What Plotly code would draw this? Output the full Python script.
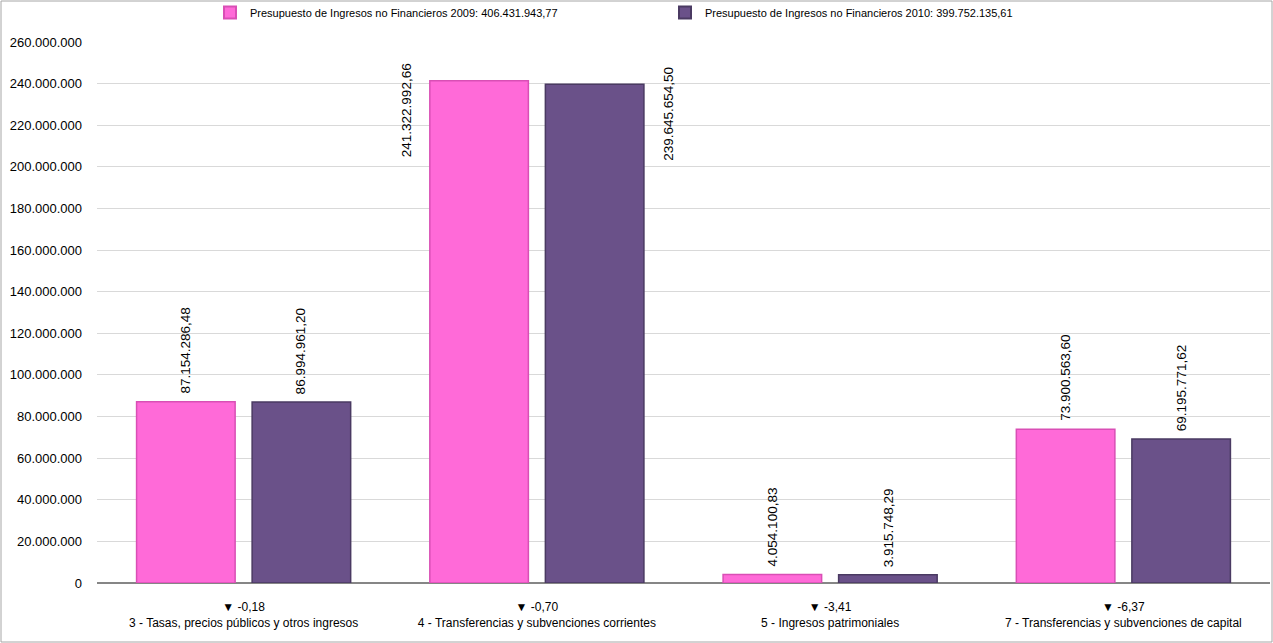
import plotly.graph_objects as go

categories = ["3 - Tasas, precios públicos y otros ingresos",
              "4 - Transferencias y subvenciones corrientes",
              "5 - Ingresos patrimoniales",
              "7 - Transferencias y subvenciones de capital"]
values_2009 = [87154286.48, 241322992.66, 4054100.83, 73900563.60]
values_2010 = [86994961.20, 239645654.50, 3915748.29, 69195771.62]
pct_change = ["-0,18", "-0,70", "-3,41", "-6,37"]
series_names = ["Presupuesto de Ingresos no Financieros 2009: 406.431.943,77",
                "Presupuesto de Ingresos no Financieros 2010: 399.752.135,61"]
tick_values = [0, 20e6, 40e6, 60e6, 80e6, 100e6, 120e6, 140e6, 160e6, 180e6, 200e6, 220e6, 240e6, 260e6]


def es_fmt(v, dec=2):
    s = f"{v:,.{dec}f}"
    return s.replace(",", "X").replace(".", ",").replace("X", ".")


W, H = 1273, 643
ML, MR, MT, MB = 97, 3, 42, 60
PW = W - ML - MR
PH = H - MT - MB

NUM_FONT = "Liberation Sans, Arial, sans-serif"
TXT_FONT = "Liberation Sans, Arial, sans-serif"

PINK = "#FF6AD8"
PURPLE = "#6A5189"

xs = list(range(len(categories)))
bargap = 0.212
bargroupgap = 0.147

fig = go.Figure()
fig.add_trace(go.Bar(x=xs, y=values_2009, name=series_names[0],
                     marker=dict(color=PINK, line=dict(color="#D94FB5", width=1.5))))
fig.add_trace(go.Bar(x=xs, y=values_2010, name=series_names[1],
                     marker=dict(color=PURPLE, line=dict(color="#4A3A62", width=1.5))))

slot = (1 - bargap) / 2
bar_w = slot * (1 - bargroupgap)
anns = []
for i in xs:
    for k, vals in enumerate([values_2009, values_2010]):
        v = vals[i]
        center = i - slot / 2 + k * slot
        txt = es_fmt(v)
        font = dict(family=NUM_FONT, size=13.5, color="#000")
        if v > 200e6:
            if k == 0:
                anns.append(dict(x=center - bar_w / 2, y=v, xref="x", yref="y", text=txt, textangle=-90,
                                 showarrow=False, xanchor="right", yanchor="top",
                                 xshift=-13, yshift=20, font=font))
            else:
                anns.append(dict(x=center + bar_w / 2, y=v, xref="x", yref="y", text=txt, textangle=-90,
                                 showarrow=False, xanchor="left", yanchor="top",
                                 xshift=15, yshift=20, font=font))
        else:
            anns.append(dict(x=center, y=v, xref="x", yref="y", text=txt, textangle=-90,
                             showarrow=False, xanchor="center", yanchor="bottom", yshift=6,
                             font=font))

ticktext = [f"▼ {p}<br>{c}" for p, c in zip(pct_change, categories)]

fig.update_layout(
    width=W, height=H,
    margin=dict(l=ML, r=MR, t=MT, b=MB, autoexpand=False),
    paper_bgcolor="white", plot_bgcolor="white",
    barmode="group", bargap=bargap, bargroupgap=bargroupgap,
    showlegend=True,
    legend=dict(orientation="h", x=(210 - ML) / PW, xanchor="left", y=1 + (MT + 2) / PH, yanchor="top",
                font=dict(family=TXT_FONT, size=11, color="#000"),
                entrywidth=410, entrywidthmode="pixels", itemsizing="constant",
                bgcolor="rgba(0,0,0,0)"),
    xaxis=dict(tickmode="array", tickvals=xs, ticktext=ticktext, range=[-0.5, len(xs) - 0.5],
               showgrid=False, showline=False, ticks="", zeroline=False, ticklabelstandoff=15,
               automargin=False,
               tickfont=dict(family=TXT_FONT, size=12, color="#000")),
    yaxis=dict(range=[0, 260e6], tickmode="array", tickvals=tick_values,
               ticktext=[es_fmt(t, 0) for t in tick_values],
               showgrid=True, gridcolor="#D9D9D9", gridwidth=1,
               zeroline=True, zerolinecolor="#868686", zerolinewidth=2,
               showline=False, ticks="", ticklabelstandoff=14, automargin=False,
               tickfont=dict(family=NUM_FONT, size=13, color="#000")),
    annotations=anns,
    shapes=[dict(type="rect", xref="paper", yref="paper",
                 x0=(1 - ML) / PW, x1=1 + (MR - 1) / PW,
                 y0=-(MB - 1) / PH, y1=1 + (MT - 1) / PH,
                 line=dict(color="#A6A6A6", width=1), fillcolor="rgba(0,0,0,0)", layer="below")],
)

fig.write_html("out.html", config={"displayModeBar": False},
               post_script="document.body.style.margin='0';")
